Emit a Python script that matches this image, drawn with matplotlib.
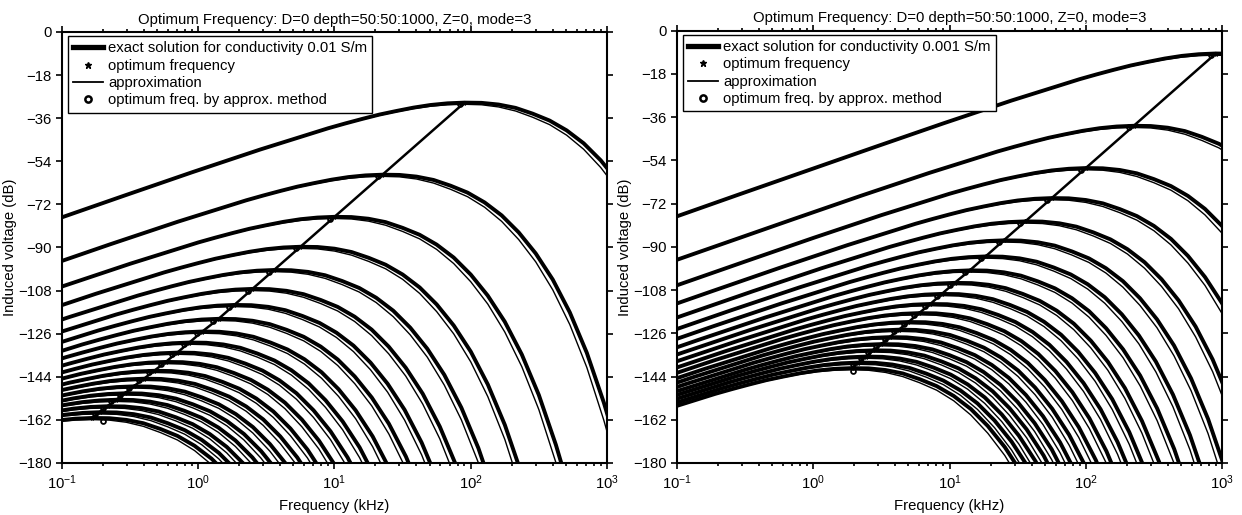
import numpy as np
import matplotlib.pyplot as plt
from matplotlib.lines import Line2D

plt.rcParams['font.family'] = ['Liberation Sans', 'DejaVu Sans']
plt.rcParams['mathtext.default'] = 'regular'

# depth = 50:50:1000 (m), one curve per depth
depth_m = [50, 100, 150, 200, 250, 300, 350, 400, 450, 500,
           550, 600, 650, 700, 750, 800, 850, 900, 950, 1000]

# every curve has the same shape, shifted to its optimum point
# log10(f / f_opt) and level relative to the optimum (dB)
shape_log_ratio = [-4.0, -3.5, -3.0, -2.5, -2.0, -1.5, -1.0, -0.875, -0.75, -0.625,
                   -0.5, -0.375, -0.25, -0.125, 0.0, 0.125, 0.25, 0.375, 0.5, 0.625,
                   0.75, 0.875, 1.0, 1.125, 1.25, 1.375, 1.5, 1.625, 1.75, 1.875, 2.0]
shape_exact_db = [-68.7, -58.7, -48.8, -38.9, -29.1, -19.6, -10.7, -8.7, -6.8, -5.0,
                  -3.5, -2.1, -1.0, -0.3, 0.0, -0.1, -0.8, -2.2, -4.6, -7.5,
                  -11.6, -17.0, -24.1, -32.9, -43.8, -57.5, -74.4, -95.2, -119.2, -149.7, -186.6]
shape_approx_db = [-68.7, -58.7, -48.8, -38.9, -29.1, -19.6, -10.8, -8.9, -7.0, -5.3,
                   -3.8, -2.5, -1.5, -0.9, -0.7, -0.9, -1.8, -3.5, -6.1, -9.2,
                   -13.6, -19.5, -27.1, -36.4, -48.1, -62.6, -80.5, -102.6, -127.9, -160.1, -199.1]

# optimum frequency (kHz) and level (dB) of each depth, conductivity 0.01 S/m
left_opt_khz = [90, 22.5, 10, 5.63, 3.6, 2.5, 1.84, 1.41, 1.072, 0.86,
                0.702, 0.577, 0.475, 0.400, 0.336, 0.289, 0.250, 0.216, 0.189, 0.167]
left_opt_db = [-29.5, -59.6, -77.2, -89.7, -99.4, -107.3, -114.0, -119.8, -125.1, -129.7,
               -133.9, -137.8, -141.5, -144.8, -148.0, -150.9, -153.6, -156.3, -158.8, -161.2]
left_app_khz = [82.8, 20.7, 9.2, 5.18, 3.31, 2.3, 1.69, 1.29, 0.986, 0.791,
                0.646, 0.531, 0.437, 0.368, 0.309, 0.266, 0.230, 0.199, 0.174, 0.2]
left_app_db = [-30.2, -60.3, -77.9, -90.4, -100.1, -108.0, -114.7, -120.5, -125.8, -130.4,
               -134.6, -138.5, -142.2, -145.5, -148.7, -151.6, -154.3, -157.0, -159.5, -162.3]

# same for conductivity 0.001 S/m
right_opt_khz = [900, 225, 100, 56.3, 36, 25, 18.4, 14.1, 10.9, 8.79,
                 7.22, 5.98, 5.0, 4.25, 3.64, 3.16, 2.76, 2.42, 2.14, 1.91]
right_opt_db = [-9.5, -39.6, -57.2, -69.7, -79.4, -87.3, -94.0, -99.8, -105.0, -109.6,
                -113.8, -117.6, -121.3, -124.5, -127.6, -130.5, -133.1, -135.7, -138.2, -140.5]
right_app_khz = [828, 207, 92, 51.8, 33.1, 23, 16.9, 12.9, 10.0, 8.09,
                 6.64, 5.5, 4.6, 3.91, 3.35, 2.91, 2.54, 2.23, 1.97, 1.95]
right_app_db = [-10.2, -40.3, -57.9, -70.4, -80.1, -88.0, -94.7, -100.5, -105.7, -110.3,
                -114.5, -118.3, -122.0, -125.2, -128.3, -131.2, -133.8, -136.4, -138.9, -141.6]

title = 'Optimum Frequency: D=0 depth=50:50:1000, Z=0, mode=3'
fs = 10.7


def draw_panel(ax, cond, opt_f, opt_v, app_f, app_v):
    ratio = 10.0 ** np.array(shape_log_ratio)
    for f0, v0 in zip(opt_f, opt_v):
        ax.plot(f0 * ratio, v0 + np.array(shape_exact_db), color='black', lw=2.8)
        ax.plot(f0 * ratio, v0 + np.array(shape_approx_db), color='black', lw=1.0)
    ax.plot(opt_f, opt_v, color='black', lw=1.8, marker='*', ms=3)
    ax.plot(app_f, app_v, ls='none', marker='o', ms=3.5, mfc='none', mec='black', mew=1.3)

    ax.set_xscale('log')
    ax.set_xlim(0.1, 1000)
    ax.set_ylim(-180, 0)
    ax.set_yticks(np.arange(-180, 1, 18))
    ax.tick_params(which='both', direction='out', top=True, right=True, labelsize=fs, width=1.2)
    ax.tick_params(which='major', length=4)
    ax.tick_params(which='minor', length=2.5)
    for s in ax.spines.values():
        s.set_linewidth(1.5)
    ax.set_title(title, fontsize=fs, pad=6)
    ax.set_xlabel('Frequency (kHz)', fontsize=fs, labelpad=5)
    ax.set_ylabel('Induced voltage (dB)', fontsize=fs, labelpad=1)

    handles = [
        Line2D([], [], color='black', lw=3.8),
        Line2D([], [], ls='none', color='black', marker='*', ms=5),
        Line2D([], [], color='black', lw=1.3),
        Line2D([], [], ls='none', marker='o', ms=4.5, mfc='white', mec='black', mew=1.8),
    ]
    labels = ['exact solution for conductivity ' + cond + ' S/m', 'optimum frequency',
              'approximation', 'optimum freq. by approx. method']
    leg = ax.legend(handles, labels, loc='upper left', bbox_to_anchor=(0.011, 0.99),
                    borderaxespad=0, fontsize=fs, frameon=True, fancybox=False,
                    edgecolor='black', framealpha=1, handlelength=2.0, handletextpad=0.35,
                    labelspacing=0.22, borderpad=0.35)
    leg.get_frame().set_linewidth(1.0)


fig = plt.figure(figsize=(12.42, 5.15), dpi=100)
ax1 = fig.add_axes([0.0499, 0.101, 0.4388, 0.8369])
ax2 = fig.add_axes([0.5451, 0.101, 0.4388, 0.8394])

draw_panel(ax1, '0.01', left_opt_khz, left_opt_db, left_app_khz, left_app_db)
draw_panel(ax2, '0.001', right_opt_khz, right_opt_db, right_app_khz, right_app_db)

fig.savefig('out.png', dpi=100)
